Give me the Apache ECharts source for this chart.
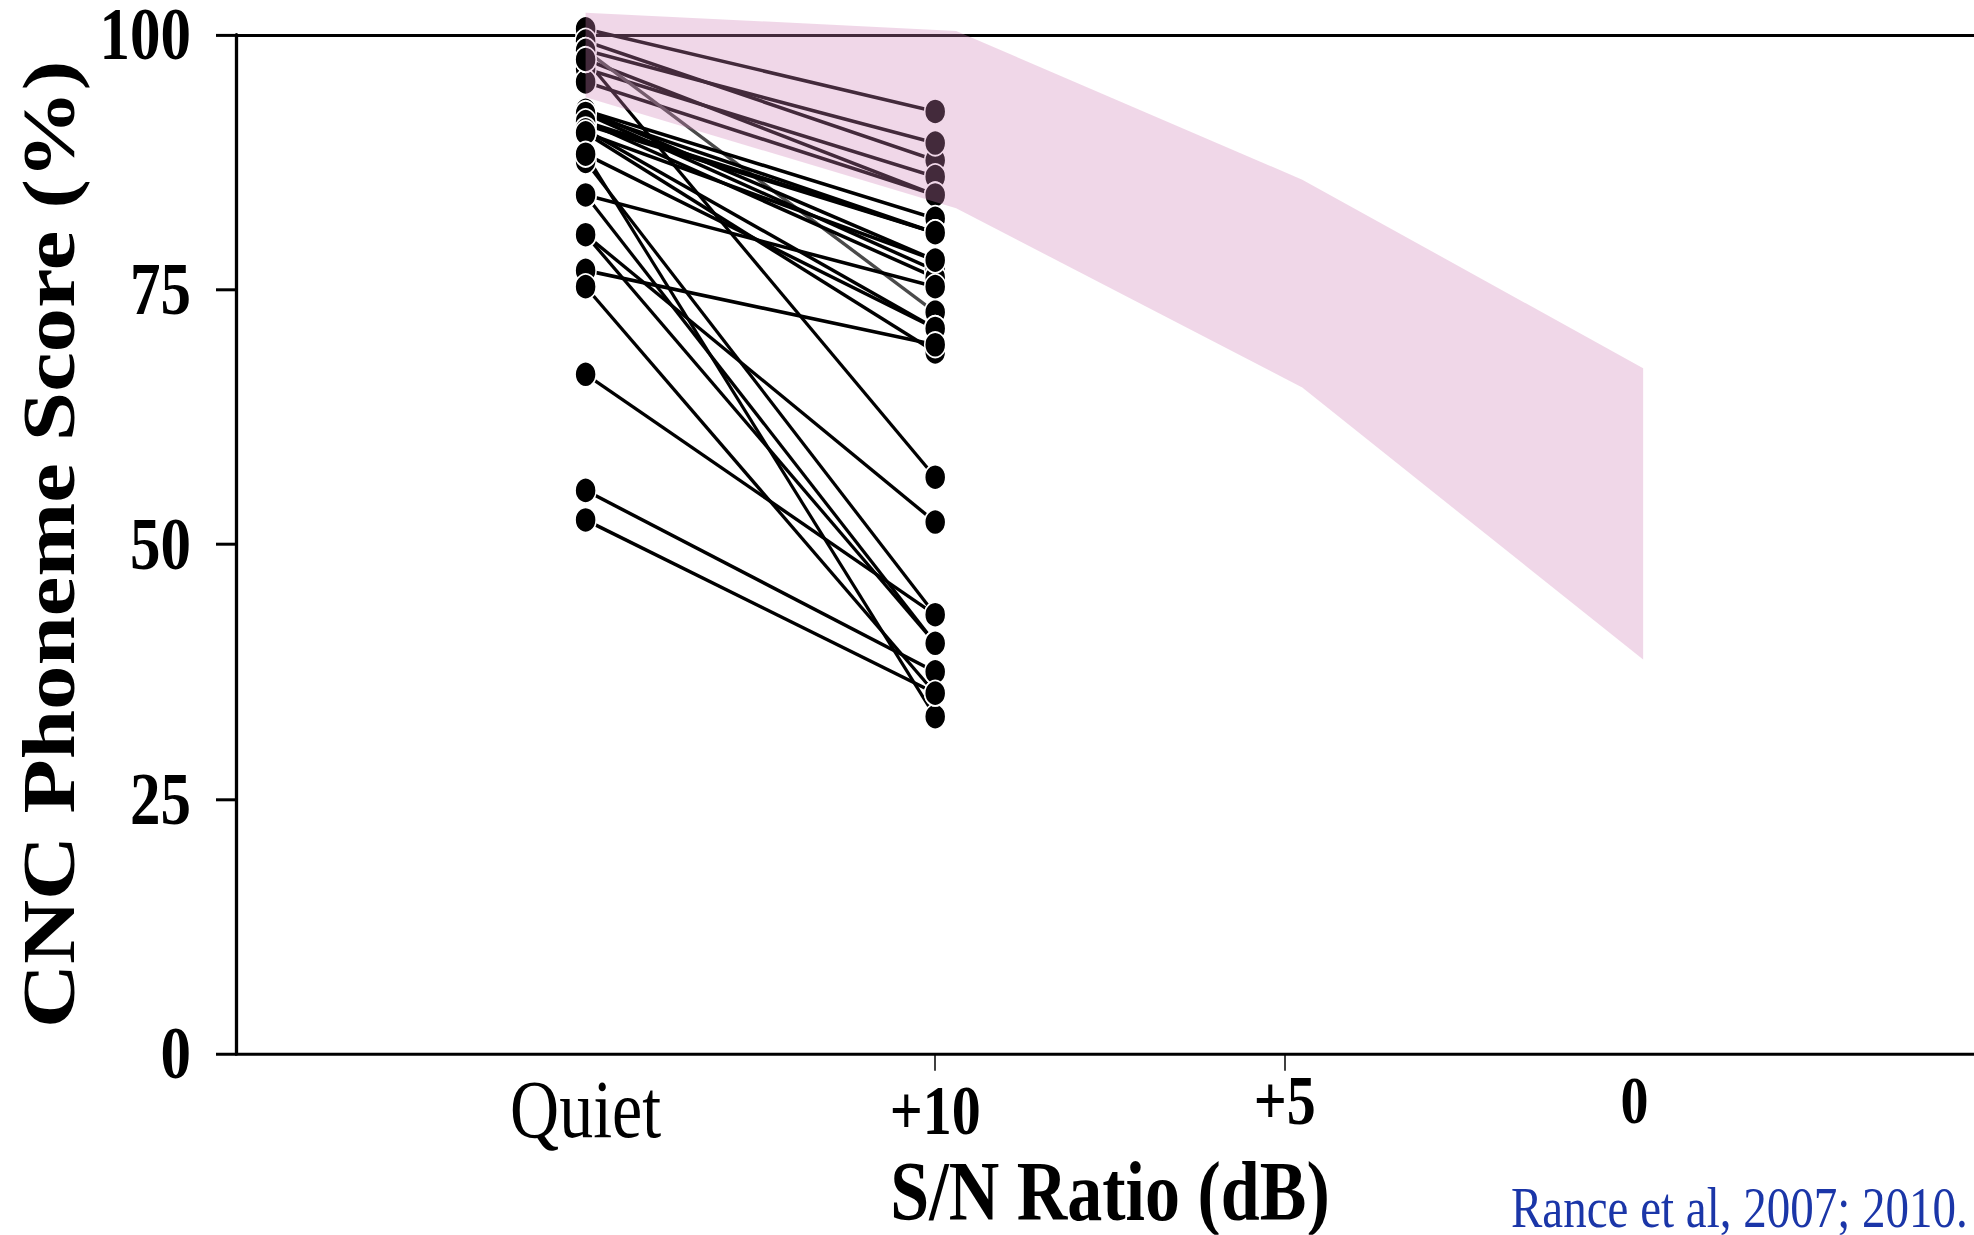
<!DOCTYPE html>
<html>
<head>
<meta charset="utf-8">
<style>
html,body{margin:0;padding:0;background:#fff;overflow:hidden;width:1974px;height:1235px}
#wrap{width:1974px;height:1235px;overflow:hidden;position:relative;background:#fff}
#chart{width:1974px;height:1029px;transform:scaleY(1.2);transform-origin:0 0}
</style>
<script src="https://cdn.jsdelivr.net/npm/echarts/dist/echarts.min.js"></script>
</head>
<body>
<div id="wrap"><div id="chart"></div></div>
<script>
// ---- data ----
const conditions = ['Quiet', '+10', '+5', '0'];          // S/N conditions, placed at x = 1..4
const conditionPositions = [1, 2, 3, 4];
const yTickValues = [0, 25, 50, 75, 100];

// individual subjects: CNC phoneme score in quiet and at +10 dB S/N
const quietScores = [
  100.6, 99.4, 98.5, 96.7, 95.4, 97.6, 98.5, 97.6,
  92.6, 92.3, 91.5, 91.2, 92.6, 92.3, 91.5, 90.4,
  90.7, 88.3, 90.4,
  84.3, 76.9,
  87.6, 84.3, 80.4, 80.4, 88.3, 75.3, 66.7, 55.3, 52.4
];
const snr10Scores = [
  92.5, 87.7, 89.4, 86.1, 84.3, 84.3, 72.8, 56.6,
  82.0, 80.6, 80.6, 80.6, 77.9, 76.9, 76.2, 77.9,
  71.2, 71.2, 68.9,
  75.3, 69.6,
  43.1, 40.3, 52.2, 40.3, 33.1, 35.4, 43.1, 37.5, 35.4
];
const greySubject = 6;

// normal-hearing range (shaded band)
const bandX     = [1.0, 2.06, 3.05, 4.025];
const bandUpper = [102.2, 100.4, 85.8, 67.3];
const bandLower = [93.9, 83.0, 65.4, 38.7];

const citation = 'Rance et al, 2007; 2010.';

// ---- chart ----
const chart = echarts.init(document.getElementById('chart'), null, {renderer: 'svg', width: 1974, height: 1029});

const serif = '"Liberation Serif", "Times New Roman", serif';

const series = [];
quietScores.forEach((q, i) => {
  series.push({
    type: 'line',
    data: [[conditionPositions[0], q], [conditionPositions[1], snr10Scores[i]]],
    symbol: 'none',
    clip: false,
    silent: true,
    z: 2,
    lineStyle: {color: i === greySubject ? '#4a4a4a' : '#000', width: 3}
  });
});
const dots = [];
quietScores.forEach(q => dots.push([conditionPositions[0], q]));
snr10Scores.forEach(v => dots.push([conditionPositions[1], v]));
series.push({
  type: 'scatter',
  data: dots,
  symbol: 'circle',
  symbolSize: 21,
  clip: false,
  silent: true,
  z: 3,
  itemStyle: {color: '#000', borderColor: '#fff', borderWidth: 1.5, opacity: 1}
});
series.push({
  type: 'custom',
  coordinateSystem: 'cartesian2d',
  clip: false,
  silent: true,
  z: 10,
  data: bandX.map((x, i) => [x, bandUpper[i], bandLower[i]]),
  renderItem: function (params, api) {
    if (params.dataIndex !== 0) return null;
    const pts = [];
    for (let i = 0; i < bandX.length; i++) pts.push(api.coord([bandX[i], bandUpper[i]]));
    for (let i = bandX.length - 1; i >= 0; i--) pts.push(api.coord([bandX[i], bandLower[i]]));
    return {type: 'polygon', shape: {points: pts}, style: {fill: 'rgba(207,132,182,0.32)'}};
  }
});

const labelRich = {
  s0: {fontFamily: serif, fontSize: 68, fontWeight: 'normal', color: '#000', lineHeight: 56, padding: [6, 0, 0, 0]},
  s1: {fontFamily: serif, fontSize: 58, fontWeight: 'bold', color: '#000', lineHeight: 44, padding: [21, 0, 0, 0]},
  s2: {fontFamily: serif, fontSize: 58, fontWeight: 'bold', color: '#000', lineHeight: 44, padding: [4, 0, 0, 0]},
  s3: {fontFamily: serif, fontSize: 56, fontWeight: 'bold', color: '#000', lineHeight: 44, padding: [4, 0, 0, 0]}
};

chart.setOption({
  animation: false,
  backgroundColor: '#fff',
  grid: {left: 236, top: 29.2, width: 1748, bottom: 150.8, containLabel: false, outerBoundsMode: 'none'},
  xAxis: [{
    type: 'value', min: 0, max: 5, interval: 1,
    position: 'bottom',
    name: 'S/N Ratio (dB)',
    nameLocation: 'middle',
    nameGap: 84,
    nameMoveOverlap: false,
    nameTextStyle: {fontFamily: serif, fontSize: 70, fontWeight: 'bold', color: '#000', lineHeight: 62},
    axisLine: {show: true, onZero: false, lineStyle: {color: '#000', width: 2.5}},
    axisTick: {show: true, customValues: [2, 3], length: 14, lineStyle: {color: '#000', width: 1.5}},
    axisLabel: {
      show: true, margin: 15,
      customValues: conditionPositions,
      formatter: function (v) {
        const idx = conditionPositions.indexOf(v);
        return idx < 0 ? '' : '{s' + idx + '|' + conditions[idx] + '}';
      },
      rich: labelRich
    },
    splitLine: {show: false}
  }, {
    type: 'value', min: 0, max: 5, position: 'top',
    axisLine: {show: true, onZero: false, lineStyle: {color: '#000', width: 2.5}},
    axisTick: {show: false}, axisLabel: {show: false}, splitLine: {show: false}
  }],
  yAxis: {
    type: 'value', min: 0, max: 100, interval: 25,
    name: 'CNC Phoneme Score (%)',
    nameLocation: 'middle',
    nameGap: 150,
    nameTextStyle: {fontFamily: serif, fontSize: 74, fontWeight: 'bold', color: '#000'},
    axisLine: {show: true, lineStyle: {color: '#000', width: 3.3}},
    axisTick: {show: true, length: 20, lineStyle: {color: '#000', width: 2.5}},
    axisLabel: {
      show: true, margin: 45,
      customValues: yTickValues,
      fontFamily: serif, fontSize: 61, fontWeight: 'bold', color: '#000', lineHeight: 40
    },
    splitLine: {show: false}
  },
  graphic: [{
    type: 'text',
    left: 1511, top: 983,
    silent: true,
    style: {text: citation, font: '47px ' + serif, fill: '#1b36a8', lineHeight: 34}
  }],
  series: series
});
</script>
</body>
</html>
